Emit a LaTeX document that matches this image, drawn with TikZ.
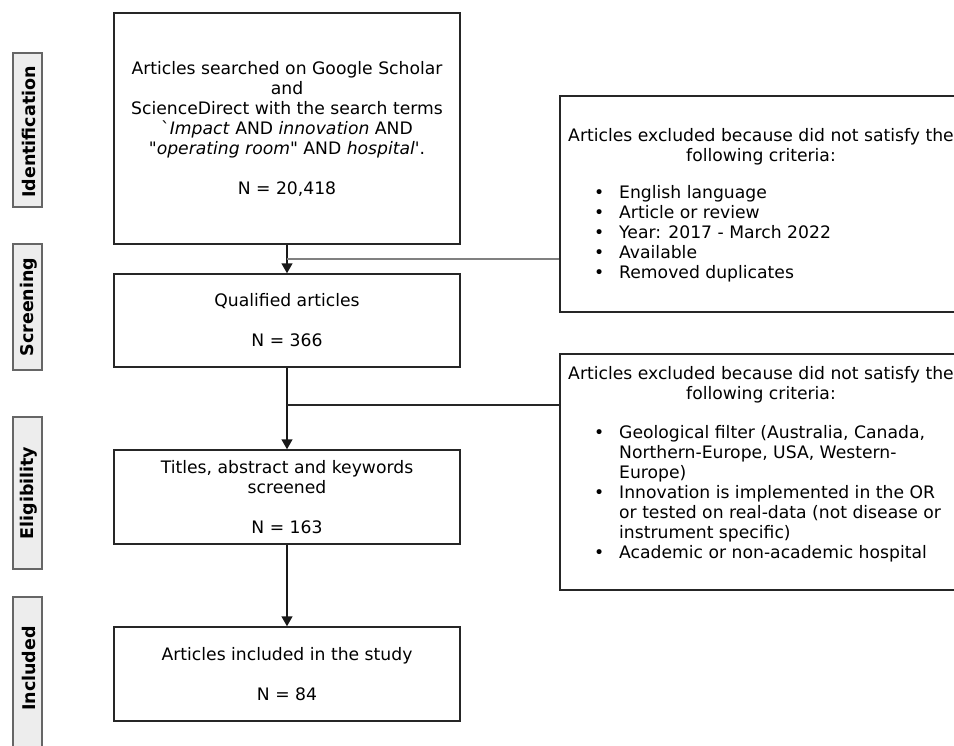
\documentclass[tikz,border=0pt]{standalone}
\usepackage{fontspec}
\newfontfamily\vfont{DejaVu Sans}
\usetikzlibrary{arrows.meta,calc}

\begin{document}
\begin{tikzpicture}[x=1pt,y=-1pt,
  txt/.style={inner sep=0pt, font=\vfont\fontsize{17.2}{20}\selectfont},
  box/.style={txt, draw=black!85, line width=1.5pt, fill=white, align=center},
  exbox/.style={draw=black!85, line width=1.5pt, fill=white, inner sep=0pt},
  phase/.style={draw=black!60, fill=black!7, line width=1.6pt, inner sep=0pt},
  phasetxt/.style={inner sep=0pt, rotate=90, font=\vfont\fontsize{17.5}{20}\selectfont\bfseries},
  flow/.style={draw=black!90, line width=1.5pt, -{Triangle[width=11pt,length=10pt]}},
  feed/.style={line width=1.7pt}]
\clip (0,0) rectangle (954,745);
\fill[white] (0,0) rectangle (954,745);

% phase tabs on the left
\node[phase, minimum width=29pt, minimum height=154pt] (pI) at (27.5,130) {};
\node[phasetxt] (tI) at ($(pI.center)+(1,2)$) {Identification};
\node[phase, minimum width=29pt, minimum height=126pt] (pS) at (27.5,307) {};
\node[phasetxt] (tS) at ($(pS.center)+(1,0)$) {Screening};
\node[phase, minimum width=29pt, minimum height=152pt] (pE) at (27.5,493) {};
\node[phasetxt] (tE) at ($(pE.center)+(1,0)$) {Eligibility};
\node[phase, minimum width=29pt, minimum height=163pt] (pN) at (27.5,678.5) {};
\node[phasetxt] (tN) at ($(pN.center)+(1,-10)$) {Included};

% main flow boxes
\node[box, minimum width=346pt, minimum height=231pt] (b1) at (287,128.5)
  {Articles searched on Google Scholar\\and\\ScienceDirect with the search terms\\
   `\textit{Impact} AND \textit{innovation} AND\\
   \textit{"operating room"} AND \textit{hospital'}.\\[20pt]N = 20,418};
\node[box, minimum width=346pt, minimum height=93pt] (b2) at (287,320.5)
  {Qualified articles\\[20pt]N = 366};
\node[box, minimum width=346pt, minimum height=94pt] (b3) at (287,497)
  {Titles, abstract and keywords\\screened\\[20pt]N = 163};
\node[box, minimum width=346pt, minimum height=94pt] (b4) at (287,674)
  {Articles included in the study\\[20pt]N = 84};

% exclusion boxes on the right
\node[exbox, minimum width=402pt, minimum height=216pt] (x1) at (761,204) {};
\node[txt, align=center] (h1) at (761,147)
  {Articles excluded because did not satisfy the\\following criteria:};
\node[txt, align=left, anchor=west] (l1) at (594,234)
  {\makebox[25pt][l]{•}English language\\
   \makebox[25pt][l]{•}Article or review\\
   \makebox[25pt][l]{•}Year: 2017 - March 2022\\
   \makebox[25pt][l]{•}Available\\
   \makebox[25pt][l]{•}Removed duplicates};

\node[exbox, minimum width=402pt, minimum height=236pt] (x2) at (761,472) {};
\node[txt, align=center] (h2) at (761,385)
  {Articles excluded because did not satisfy the\\following criteria:};
\node[txt, align=left, anchor=west] (l2) at (594,494)
  {\makebox[25pt][l]{•}Geological filter (Australia, Canada,\\
   \hspace*{25pt}Northern-Europe, USA, Western-\\
   \hspace*{25pt}Europe)\\
   \makebox[25pt][l]{•}Innovation is implemented in the OR\\
   \hspace*{25pt}or tested on real-data (not disease or\\
   \hspace*{25pt}instrument specific)\\
   \makebox[25pt][l]{•}Academic or non-academic hospital};

% connectors
\coordinate (j1) at ($(b1.south)+(0,14)$);
\coordinate (j2) at ($(b2.south)+(0,37)$);
\draw[flow] (b1.south) -- (b2.north);
\draw[feed, draw=black!50] (x1.west |- j1) -- (j1);
\draw[flow] (b2.south) -- (b3.north);
\draw[feed, draw=black!85] (x2.west |- j2) -- (j2);
\draw[flow] (b3.south) -- (b4.north);
\end{tikzpicture}
\end{document}
